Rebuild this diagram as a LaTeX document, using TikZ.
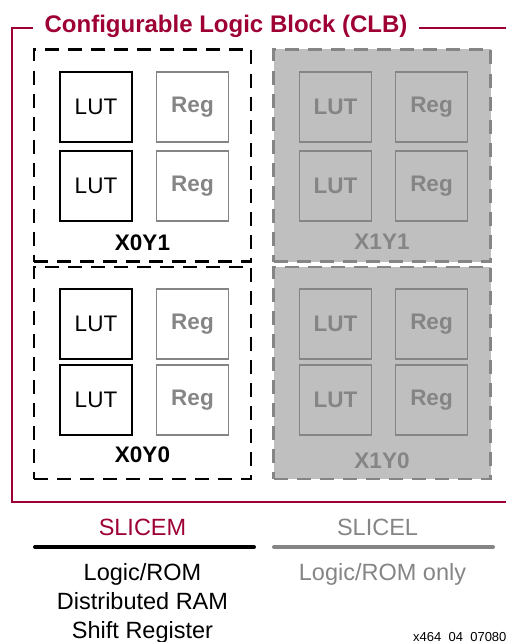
\documentclass[tikz,border=0pt]{standalone}
\usepackage{fontspec}
\setmainfont{Liberation Sans}
\usetikzlibrary{calc, positioning}

\definecolor{clbred}{RGB}{158,0,52}
\definecolor{slicefill}{RGB}{191,191,191}
\definecolor{linegray}{RGB}{133,133,133}

\begin{document}
\begin{tikzpicture}[x=1pt, y=-1pt,
	slice/.style={draw, line width=2.5pt, dash pattern=on 14pt off 9pt, minimum width=217pt, minimum height=212pt, inner sep=0pt},
	slice L/.style={slice, draw=linegray, fill=slicefill},
	cell/.style={draw, line width=1.4pt, minimum width=72pt, minimum height=70pt, inner sep=0pt, font=\fontsize{22.5}{27}\selectfont},
	lut/.style={cell, black},
	reg/.style={cell, linegray, font=\fontsize{22.5}{27}\selectfont\bfseries},
	sname/.style={font=\fontsize{22.5}{27}\selectfont\bfseries},
	clbframe/.style={draw=clbred, line width=2pt}]
	\useasboundingbox (0,0) rectangle (506,642);

	\node[anchor=base, inner xsep=11pt, text=clbred, font=\fontsize{24}{28}\selectfont\bfseries] (CLB) at (226,33) {Configurable Logic Block (CLB)};
	\draw[clbframe] (CLB.west |- 0,28) -- (12,28) -- (12,502) -- (506,502);
	\draw[clbframe] (CLB.east |- 0,28) -- (506,28);

	\node[slice] (X0Y1) at (142.5,155.5) {};
	\node[slice] (X0Y0) at (142.5,373) {};
	\node[slice L] (X1Y1) at (382,155.5) {};
	\node[slice L] (X1Y0) at (382,373) {};

	\node[lut] (LUT01a) at (96,107) {LUT};
	\node[reg] (REG01a) at (192.5,107) {Reg};
	\node[lut] (LUT01b) at (96,186) {LUT};
	\node[reg] (REG01b) at (192.5,186) {Reg};
	\node[lut] (LUT00a) at (96,324) {LUT};
	\node[reg] (REG00a) at (192.5,324) {Reg};
	\node[lut] (LUT00b) at (96,400) {LUT};
	\node[reg] (REG00b) at (192.5,400) {Reg};

	\node[reg] (LUT11a) at (335.5,107) {LUT};
	\node[reg] (REG11a) at (431.5,107) {Reg};
	\node[reg] (LUT11b) at (335.5,186) {LUT};
	\node[reg] (REG11b) at (431.5,186) {Reg};
	\node[reg] (LUT10a) at (335.5,324) {LUT};
	\node[reg] (REG10a) at (431.5,324) {Reg};
	\node[reg] (LUT10b) at (335.5,400) {LUT};
	\node[reg] (REG10b) at (431.5,400) {Reg};

	\node[sname] (X0Y1name) at (142.5,243) {X0Y1};
	\node[sname] (X0Y0name) at (142.5,455) {X0Y0};
	\node[sname, text=linegray] (X1Y1name) at (382,242) {X1Y1};
	\node[sname, text=linegray] (X1Y0name) at (382,461) {X1Y0};

	\begin{scope}[nodes={anchor=base, font=\fontsize{23.5}{29}\selectfont}]
		\node[text=clbred] (SLICEM) at (142.5,535) {SLICEM};
		\node[text=linegray] (SLICEL) at (377.5,535) {SLICEL};
		\node[align=center] (Mfeat) at (142.5,638) {Logic/ROM\\Distributed RAM\\Shift Register};
		\node[text=linegray] (Lfeat) at (382.5,580) {Logic/ROM only};
	\end{scope}
	\draw[line width=4pt, line cap=round] (35,547) -- (254,547);
	\draw[line width=4pt, line cap=round, linegray] (274,547) -- (493,547);

	\node[anchor=base west, inner sep=0pt, font=\fontsize{13}{15}\selectfont] (figid) at (413,641.5) {x464\_04\_070807};
\end{tikzpicture}
\end{document}
